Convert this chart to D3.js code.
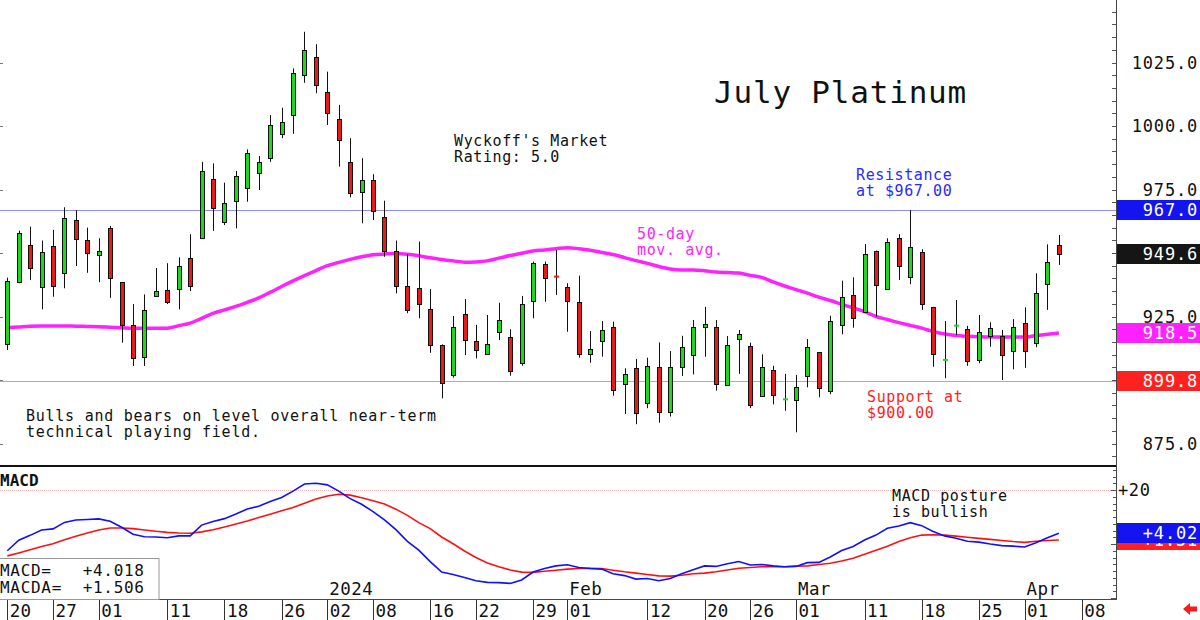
<!DOCTYPE html>
<html lang="en">
<head>
<meta charset="UTF-8">
<title>July Platinum</title>
<script src="https://d3js.org/d3.v7.min.js"></script>
<style>
  body { margin: 0; background: #fff; }
  svg { display: block; }
  text { font-family: "DejaVu Sans Mono", monospace; }
</style>
</head>
<body>
<div id="chart"></div>
<script>
// trading days shown (Nov 20 2023 .. Apr 4 2024)
const days = [
  "2023-11-20","2023-11-21","2023-11-22","2023-11-24","2023-11-27","2023-11-28","2023-11-29","2023-11-30",
  "2023-12-01","2023-12-04","2023-12-05","2023-12-06","2023-12-07","2023-12-08","2023-12-11","2023-12-12",
  "2023-12-13","2023-12-14","2023-12-15","2023-12-18","2023-12-19","2023-12-20","2023-12-21","2023-12-22",
  "2023-12-26","2023-12-27","2023-12-28","2023-12-29",
  "2024-01-02","2024-01-03","2024-01-04","2024-01-05","2024-01-08","2024-01-09","2024-01-10","2024-01-11",
  "2024-01-12","2024-01-16","2024-01-17","2024-01-18","2024-01-19","2024-01-22","2024-01-23","2024-01-24",
  "2024-01-25","2024-01-26","2024-01-29","2024-01-30","2024-01-31",
  "2024-02-01","2024-02-02","2024-02-05","2024-02-06","2024-02-07","2024-02-08","2024-02-09","2024-02-12",
  "2024-02-13","2024-02-14","2024-02-15","2024-02-16","2024-02-20","2024-02-21","2024-02-22","2024-02-23",
  "2024-02-26","2024-02-27","2024-02-28","2024-02-29",
  "2024-03-01","2024-03-04","2024-03-05","2024-03-06","2024-03-07","2024-03-08","2024-03-11","2024-03-12",
  "2024-03-13","2024-03-14","2024-03-15","2024-03-18","2024-03-19","2024-03-20","2024-03-21","2024-03-22",
  "2024-03-25","2024-03-26","2024-03-27","2024-03-28",
  "2024-04-01","2024-04-02","2024-04-03","2024-04-04"
];
const futureDays = ["2024-04-05", "2024-04-08"];

const opens = [914.1,938.5,953.1,936.5,952.9,942.1,963.1,955.1,949.1,960.0,938.5,921.7,908.9,932.8,935.4,935.7,
  948.1,956.0,979.1,962.3,970.5,975.5,981.6,987.5,996.7,1004.3,1020.1,1027.0,1013.5,1002.6,985.7,974.1,
  978.6,964.1,950.9,937.1,936.1,927.8,913.8,902.0,925.9,915.4,910.0,919.0,917.1,906.6,930.8,945.5,
  940.8,936.5,930.8,910.1,915.2,920.7,898.3,904.7,891.2,905.1,887.3,905.2,910.0,921.0,920.7,897.9,
  916.1,913.4,893.8,903.8,892.2,891.9,901.7,910.9,895.7,921.4,933.5,926.7,950.9,935.7,955.8,940.3,
  950.3,928.7,907.7,921.2,920.0,907.6,917.4,917.2,911.4,922.6,914.4,937.8,953.1];
const highs = [940.3,958.8,960.4,954.9,959.1,968.0,966.9,960.0,955.8,960.6,938.6,929.9,933.7,944.1,946.0,948.3,
  957.4,985.9,985.3,977.7,982.3,990.8,988.2,1004.3,1007.2,1022.7,1037.1,1032.2,1021.4,1008.3,995.2,987.3,
  981.0,970.6,954.9,949.6,954.5,935.8,914.0,925.2,931.9,921.7,925.6,930.4,920.0,933.1,946.6,946.6,
  951.2,938.1,941.1,919.3,923.2,923.0,904.6,908.3,908.8,914.8,911.4,917.4,923.6,928.8,923.6,917.3,
  919.7,914.7,910.1,905.6,902.4,902.0,916.1,911.0,925.3,939.1,940.4,953.5,951.0,955.8,957.4,966.9,
  951.5,928.8,923.2,931.5,921.3,925.6,922.7,919.7,924.0,928.6,942.0,953.4,957.1];
const lows = [911.8,938.1,939.4,927.8,932.8,936.1,944.9,942.2,938.5,932.4,914.7,905.5,905.5,932.7,929.9,927.8,
  935.0,955.8,958.7,961.0,959.7,970.2,974.8,985.9,995.2,996.9,1017.0,1012.9,1000.4,984.0,971.9,961.7,
  963.0,948.5,934.1,926.3,924.3,910.7,892.8,900.9,909.8,908.5,909.9,915.7,901.7,905.6,924.3,930.8,
  933.5,919.0,908.8,906.8,909.2,893.8,886.6,882.6,888.9,883.2,885.6,901.6,902.2,909.2,895.8,897.8,
  902.4,888.9,893.7,890.4,887.9,879.4,897.1,893.2,894.4,918.0,920.6,926.6,924.9,935.5,939.4,937.7,
  927.6,905.2,900.7,917.7,905.6,906.6,913.1,900.0,904.2,904.8,912.9,927.6,945.3];
const closes = [939.0,957.8,944.0,950.3,937.1,963.6,955.5,950.1,950.7,940.3,921.4,908.9,927.4,934.9,930.8,944.9,
  937.0,982.4,967.8,969.6,980.2,989.2,985.9,1000.4,1001.6,1020.7,1029.9,1015.9,1005.2,994.4,973.5,978.7,
  966.5,950.9,937.1,927.8,929.9,913.5,899.0,920.9,915.7,911.7,914.1,923.6,903.7,929.8,945.9,940.0,
  940.6,931.0,910.5,912.2,919.6,895.8,902.4,887.1,905.6,887.5,905.1,912.9,921.0,922.0,898.3,913.7,
  918.0,890.2,905.1,894.1,892.6,897.1,913.1,896.7,923.3,932.5,924.3,949.6,937.4,954.2,944.6,952.2,
  929.9,910.2,908.1,921.6,907.5,918.8,920.5,909.8,921.0,911.4,934.1,946.3,949.6];

// 50-day moving average
const ma50 = [920.6,920.9,921.2,921.3,921.3,921.3,921.2,921.1,921.0,920.8,920.6,920.4,920.4,920.4,920.4,921.4,
  922.4,924.3,926.2,927.6,929.0,930.6,932.3,934.5,936.8,939.0,941.1,943.1,945.0,946.3,947.5,948.5,
  949.3,949.6,949.8,949.5,948.9,948.1,947.4,946.9,946.4,946.5,946.9,948.0,949.0,949.9,950.8,951.2,
  951.7,952.1,951.7,951.1,950.2,949.4,948.2,947.0,945.9,944.7,943.7,943.3,943.3,943.0,942.5,942.3,
  942.1,941.2,940.4,938.6,937.0,935.6,934.2,932.6,931.3,929.8,928.4,926.9,925.0,923.8,922.6,921.5,
  920.4,919.1,918.1,917.5,917.2,917.0,916.9,916.9,916.9,916.9,917.5,918.0,918.5];

// MACD (blue) and MACDA signal (red)
const macd = [-2.5,1.4,3.2,5.2,5.6,8.0,8.9,9.1,9.3,8.4,6.2,3.6,2.7,2.6,2.3,3.0,
  3.0,7.0,8.3,9.4,11.1,13.0,14.0,15.7,17.2,19.6,22.2,22.5,21.9,19.6,16.8,14.7,
  12.0,8.9,5.3,1.0,-2.3,-6.5,-10.4,-11.3,-12.4,-13.6,-14.2,-14.3,-14.6,-13.3,-10.4,-9.1,
  -8.1,-7.7,-8.7,-9.1,-9.3,-11.0,-11.7,-13.0,-12.8,-13.6,-12.8,-11.0,-9.5,-8.1,-8.3,-7.3,
  -6.5,-7.8,-7.6,-8.1,-8.4,-8.3,-6.9,-6.8,-4.8,-2.4,-0.9,1.5,3.3,5.8,6.7,7.9,
  6.8,4.6,3.0,2.1,1.0,0.7,0.0,-0.6,-0.8,-1.1,0.5,2.3,4.018];
const macdSignal = [-4.4,-3.3,-2.1,-0.9,0.1,1.6,2.9,4.1,5.2,5.9,5.9,5.7,5.2,4.7,4.3,4.1,
  4.0,4.5,5.3,6.3,7.4,8.5,9.8,11.0,12.3,13.5,15.1,16.7,17.8,18.4,18.1,17.1,
  16.0,14.8,12.9,10.6,7.9,5.7,2.6,0.1,-2.6,-5.0,-7.0,-8.4,-9.6,-10.4,-10.5,-10.1,
  -9.7,-9.3,-9.1,-9.0,-9.1,-9.7,-10.3,-10.8,-11.3,-11.8,-11.9,-11.6,-11.0,-10.8,-10.3,-9.6,
  -9.0,-8.7,-8.4,-8.4,-8.4,-8.2,-8.1,-7.6,-7.1,-6.3,-5.3,-3.8,-2.3,-0.8,0.9,2.3,
  3.3,3.4,3.3,2.9,2.5,2.1,1.7,1.3,0.9,0.6,1.0,1.3,1.506];

const resistance = 967.0;
const support = 899.8;
const priceLabels = [875, 900, 925, 950, 975, 1000, 1025];

const tickDays = ["2023-11-20","2023-11-27","2023-12-01","2023-12-11","2023-12-18","2023-12-26",
  "2024-01-02","2024-01-08","2024-01-16","2024-01-22","2024-01-29","2024-02-01","2024-02-12",
  "2024-02-20","2024-02-26","2024-03-01","2024-03-11","2024-03-18","2024-03-25","2024-04-01","2024-04-08"];
const monthDays = ["2024-01-02", "2024-02-01", "2024-03-01", "2024-04-01"];
const monthNames = ["2024", "Feb", "Mar", "Apr"];

const W = 1200, H = 620;
const axisX = 1116;
const green = "#1ed81e", red = "#e81a1a", magenta = "#ff22ff";

const svg = d3.select("#chart").append("svg").attr("width", W).attr("height", H);

const allDays = days.concat(futureDays);
const x = d3.scalePoint().domain(allDays).range([7.3, 7.3 + 11.43 * (allDays.length - 1)]);
const y = d3.scaleLinear().domain([875, 1025]).range([443.5, 62.5]);
const ym = d3.scaleLinear().domain([0, 20]).range([544, 490]);

const candles = days.map((d, i) => ({d, o: opens[i], h: highs[i], l: lows[i], c: closes[i]}));
const px = d => Math.round(x(d)) + 0.5;

// level lines
svg.append("line").attr("x1", 0).attr("x2", axisX).attr("y1", Math.round(y(resistance)) + 0.5)
  .attr("y2", Math.round(y(resistance)) + 0.5).attr("stroke", "#8c8cff");
svg.append("line").attr("x1", 0).attr("x2", axisX).attr("y1", Math.round(y(support)) + 0.5)
  .attr("y2", Math.round(y(support)) + 0.5).attr("stroke", "#ff8c8c");

// left edge marks
svg.append("g").selectAll("line").data(priceLabels).join("line")
  .attr("x1", 0).attr("x2", 3).attr("y1", d => Math.round(y(d)) + 0.5).attr("y2", d => Math.round(y(d)) + 0.5)
  .attr("stroke", "#777");

// moving average
svg.append("path").datum(candles)
  .attr("fill", "none").attr("stroke", magenta).attr("stroke-width", 3.5)
  .attr("d", d3.line().x(d => x(d.d)).y((d, i) => y(ma50[i])).curve(d3.curveMonotoneX));

// candles
const cg = svg.append("g").selectAll("g").data(candles).join("g");
cg.append("line")
  .attr("x1", d => px(d.d)).attr("x2", d => px(d.d))
  .attr("y1", d => y(d.h)).attr("y2", d => y(d.l))
  .attr("stroke", "#111").attr("stroke-width", 1);
cg.filter(d => Math.abs(d.c - d.o) >= 0.5).append("rect")
  .attr("x", d => px(d.d) - 2)
  .attr("width", 4)
  .attr("y", d => Math.round(y(Math.max(d.o, d.c))) + 0.5)
  .attr("height", d => Math.max(1, Math.round(y(Math.min(d.o, d.c)) - y(Math.max(d.o, d.c)))))
  .attr("fill", d => d.c >= d.o ? green : red)
  .attr("stroke", "#111").attr("stroke-width", 1);
cg.filter(d => Math.abs(d.c - d.o) < 0.5).append("rect")
  .attr("x", d => px(d.d) - 2.5).attr("width", 5)
  .attr("y", d => y((d.o + d.c) / 2) - 1).attr("height", 2)
  .attr("fill", d => d.c >= d.o ? green : red);

// panel separators and axis line
svg.append("line").attr("x1", 0).attr("x2", axisX).attr("y1", 466).attr("y2", 466)
  .attr("stroke", "#111").attr("stroke-width", 2);
svg.append("line").attr("x1", 0).attr("x2", axisX).attr("y1", 599.5).attr("y2", 599.5)
  .attr("stroke", "#445").attr("stroke-width", 1);
svg.append("line").attr("x1", axisX + 0.5).attr("x2", axisX + 0.5).attr("y1", 0).attr("y2", 600)
  .attr("stroke", "#444");

// price axis ticks
svg.append("g").selectAll("line").data(d3.range(870, 1050, 5)).join("line")
  .attr("x1", axisX - 4).attr("x2", axisX)
  .attr("y1", d => Math.round(y(d)) + 0.5).attr("y2", d => Math.round(y(d)) + 0.5)
  .attr("stroke", "#555");
svg.append("g").selectAll("text").data(priceLabels).join("text")
  .attr("x", 1198).attr("y", d => y(d) + 6)
  .attr("text-anchor", "end").attr("font-size", 17).attr("letter-spacing", 0.8)
  .attr("fill", "#111").text(d => d3.format(".1f")(d));

// MACD panel
svg.append("line").attr("x1", 0).attr("x2", axisX).attr("y1", Math.round(ym(20)) + 0.5)
  .attr("y2", Math.round(ym(20)) + 0.5).attr("stroke", "#ffb0b0").attr("stroke-dasharray", "1,1");
svg.append("g").selectAll("line").data(d3.range(-20, 28.5, 2.5)).join("line")
  .attr("x1", d => d % 20 === 0 ? axisX - 5 : axisX - 3).attr("x2", axisX)
  .attr("y1", d => Math.round(ym(d)) + 0.5).attr("y2", d => Math.round(ym(d)) + 0.5)
  .attr("stroke", "#555");
svg.append("text").attr("x", 1118).attr("y", ym(20) + 6).attr("font-size", 17)
  .attr("letter-spacing", 0.6).attr("fill", "#111").text("+20");

const macdLine = arr => d3.line().x(d => x(d.d)).y((d, i) => ym(arr[i]));
svg.append("path").datum(candles).attr("fill", "none").attr("stroke", "#ff1010")
  .attr("stroke-width", 1.6).attr("d", macdLine(macdSignal));
svg.append("path").datum(candles).attr("fill", "none").attr("stroke", "#1010ff")
  .attr("stroke-width", 1.6).attr("d", macdLine(macd));

svg.append("text").attr("x", 0).attr("y", 486)
  .attr("font-family", "Liberation Sans").attr("font-weight", "bold").attr("font-size", 16)
  .attr("fill", "#111").text("MACD");

// MACD value box
const last = days.length - 1;
svg.append("rect").attr("x", -1).attr("y", 558.5).attr("width", 160).attr("height", 41)
  .attr("fill", "#fff").attr("stroke", "#999");
const fmt3 = d3.format("+.3f");
svg.append("text").attr("x", 0).attr("y", 576).attr("font-size", 16).attr("letter-spacing", 0.7)
  .attr("fill", "#111").attr("xml:space", "preserve").text("MACD=   " + fmt3(macd[last]));
svg.append("text").attr("x", 0).attr("y", 593).attr("font-size", 16).attr("letter-spacing", 0.7)
  .attr("fill", "#111").attr("xml:space", "preserve").text("MACDA=  " + fmt3(macdSignal[last]));

// value boxes on the right axis
const boxes = [
  {v: resistance, yy: y(resistance), col: "#1414f0", txt: d3.format(".1f")(resistance)},
  {v: closes[last], yy: y(closes[last]), col: "#151515", txt: d3.format(".1f")(closes[last])},
  {v: ma50[last], yy: y(ma50[last]), col: magenta, txt: d3.format(".1f")(ma50[last])},
  {v: support, yy: y(support), col: "#ff2020", txt: d3.format(".1f")(support)},
  {v: macdSignal[last], yy: ym(macdSignal[last]), col: "#ff2020", txt: d3.format("+.2f")(macdSignal[last])},
  {v: macd[last], yy: ym(macd[last]), col: "#1414f0", txt: d3.format("+.2f")(macd[last])}
];
const bg = svg.append("g").selectAll("g").data(boxes).join("g");
bg.append("rect").attr("x", axisX + 1).attr("width", W - axisX - 1)
  .attr("y", d => Math.round(d.yy) - 10).attr("height", 20).attr("fill", d => d.col);
bg.append("text").attr("x", 1198).attr("y", d => Math.round(d.yy) + 6)
  .attr("text-anchor", "end").attr("font-size", 17).attr("letter-spacing", 0.8)
  .attr("fill", "#fff").text(d => d.txt);

// date axis
svg.append("g").selectAll("line").data(tickDays).join("line")
  .attr("x1", d => Math.round(x(d)) + 0.5).attr("x2", d => Math.round(x(d)) + 0.5)
  .attr("y1", 600).attr("y2", 620).attr("stroke", "#333");
svg.append("g").selectAll("text").data(tickDays).join("text")
  .attr("x", d => x(d) + 2.5).attr("y", 617).attr("font-size", 17.5).attr("letter-spacing", 0.2)
  .attr("fill", "#111").text(d => d.slice(8, 10));
svg.append("g").selectAll("text").data(monthDays).join("text")
  .attr("x", d => x(d) + 2).attr("y", 595).attr("font-size", 17.5).attr("letter-spacing", 0.4)
  .attr("fill", "#111").text((d, i) => monthNames[i]);

svg.append("path").attr("d", "M1183,609 l7,-6 v3.5 h7 v5 h-7 v3.5 z").attr("fill", "#ff1a1a");

// annotations
function note(lines, x0, y0, col, size, ls) {
  svg.append("g").selectAll("text").data(lines).join("text")
    .attr("x", x0).attr("y", (d, i) => y0 + i * 16)
    .attr("font-size", size).attr("letter-spacing", ls)
    .attr("fill", col).text(d => d);
}
note(["July Platinum"], 714, 103, "#111", 31, 0.8);
note(["Wyckoff's Market", "Rating: 5.0"], 454, 146, "#111", 15, 0.6);
note(["50-day", "mov. avg."], 637, 239, magenta, 15, 0.6);
note(["Resistance", "at $967.00"], 856, 180, "#2a2aff", 15, 0.6);
note(["Support at", "$900.00"], 867, 402, "#ff2222", 15, 0.6);
note(["Bulls and bears on level overall near-term", "technical playing field."], 26, 421, "#111", 15, 0.75);
note(["MACD posture", "is bullish"], 892, 501, "#111", 15, 0.6);
</script>
</body>
</html>
